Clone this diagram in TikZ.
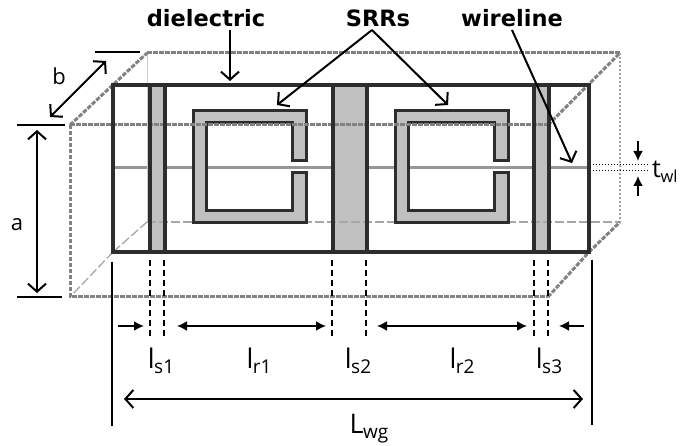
\documentclass[tikz,border=0pt]{standalone}
\usepackage{fontspec}
\setmainfont{Open Sans}
\newfontfamily\boldlab{DejaVu Sans}
\usetikzlibrary{arrows.meta}
\definecolor{fillgray}{RGB}{192,192,192}
\definecolor{linedark}{RGB}{45,45,45}
\definecolor{boxgray}{RGB}{130,130,130}
\definecolor{wiregray}{RGB}{150,150,150}
\tikzset{
  x=1pt,y=-1pt,
  frontline/.style={draw=linedark,line width=3.4pt},
  backbold/.style={draw=boxgray,line width=3pt,dash pattern=on 4.5pt off 1.5pt},
  backthin/.style={draw=boxgray!70,line width=1.3pt,dash pattern=on 9pt off 3pt},
  backfaint/.style={draw=boxgray!40,line width=.8pt},
  dimsolid/.style={draw=black,line width=1.3pt},
  guide/.style={draw=black,line width=1.1pt,dash pattern=on 6pt off 4pt},
  bigarrow/.style={draw=black,line width=2pt,-{Straight Barb[length=8pt,width=18pt,line width=2pt]}},
  bigboth/.style={draw=black,line width=2pt,{Straight Barb[length=8pt,width=18pt,line width=2pt]}-{Straight Barb[length=8pt,width=18pt,line width=2pt]}},
  solidboth/.style={draw=black,line width=1.8pt,{Latex[length=10pt,width=10pt]}-{Latex[length=10pt,width=10pt]}},
  solidone/.style={draw=black,line width=1.8pt,-{Latex[length=10pt,width=10pt]}},
  title/.style={font=\boldlab\bfseries\fontsize{22.5}{26}\selectfont,inner sep=0pt},
  dimlabel/.style={font=\fontsize{27}{30}\selectfont,inner sep=0pt},
  smalllabel/.style={font=\fontsize{22}{26}\selectfont,inner sep=0pt}
}
\newcommand{\subt}[2]{#1\kern-.5pt\raisebox{-5pt}{\fontsize{19}{21}\selectfont #2}}
\begin{document}
\begin{tikzpicture}
\useasboundingbox (0,0) rectangle (681,446);
\clip (0,0) rectangle (681,446);
\fill[white] (0,0) rectangle (681,446);
% corners
\coordinate (fa) at (113,85); \coordinate (fb) at (589,85);
\coordinate (fc) at (589,252); \coordinate (fd) at (113,252);
\coordinate (na) at (70,125); \coordinate (nb) at (548,125);
\coordinate (nc) at (548,297); \coordinate (nd) at (70,297);
\coordinate (ba) at (147,53); \coordinate (bb) at (620,53);
\coordinate (bc) at (620,222); \coordinate (bd) at (147,222);
% wire
\draw[draw=wiregray,line width=3pt] (115,168) -- (587,168);
% strips
\fill[fillgray] (150,85) rectangle (165,252);
\fill[fillgray] (333,85) rectangle (367,252);
\fill[fillgray] (534,85) rectangle (549,252);
% hidden edges
\draw[backfaint] (ba) -- (bd);
\draw[backthin] (bd) -- (bc);
\draw[backthin] (bd) -- (fd);
\draw[backthin] (fd) -- (nd);
% SRR 1 and 2
\foreach \o in {0,202}{
  \begin{scope}[xshift=\o pt]
  \filldraw[fill=fillgray,draw=linedark,line width=3pt,line join=miter]
    (306,161) -- (306,111) -- (193,111) -- (193,223) -- (306,223) -- (306,173) -- (292,173)
    -- (292,211) -- (206,211) -- (206,123) -- (292,123) -- (292,161) -- cycle;
  \end{scope}
}
% near and back dashed box
\draw[backbold] (na) -- (nb);
\draw[backbold] (na) -- (nd) -- (nc);
\draw[backbold] (ba) -- (bb);
\draw[backbold] (na) -- (ba);
\draw[backbold] (nb) -- (bb);
\draw[backbold] (nc) -- (fc);
\draw[draw=boxgray!75,line width=2.6pt,dash pattern=on 2.5pt off 1.5pt] (bb) -- (bc);
\draw[backbold] (fc) -- (bc);
% front face
\draw[frontline] (fa) rectangle (fc);
\foreach \x in {150,165,333,367,534,549}{
  \draw[frontline] (\x,85) -- (\x,252);
}
% guides
\foreach \x in {150,164,332,366,534,548}{
  \draw[guide] (\x,260) -- (\x,337);
}
% dim ticks
\coordinate (t1) at (17,125); \coordinate (t2) at (65,125);
\coordinate (t3) at (17,297); \coordinate (t4) at (62,297);
\coordinate (t5) at (95,52); \coordinate (t6) at (140,52);
\draw[dimsolid] (t1) -- (t2);
\draw[dimsolid] (t3) -- (t4);
\draw[dimsolid] (t5) -- (t6);
\coordinate (aa) at (37,130); \coordinate (ab) at (37,293);
\draw[bigboth] (aa) -- (ab);
\coordinate (ba1) at (50,117); \coordinate (ba2) at (106,61);
\draw[bigboth] (ba1) -- (ba2);
\node[smalllabel] (la) at (17,225) {a};
\node[smalllabel] (lb) at (59,76) {b};
% titles
\node[title] (diel) at (206,18) {dielectric};
\node[title] (srr) at (378,18) {SRRs};
\node[title] (wire) at (512,18) {wireline};
\coordinate (d1) at (230,30); \coordinate (d2) at (230,81);
\coordinate (s0) at (372,30); \coordinate (s1) at (277,105); \coordinate (s2) at (448,105);
\coordinate (w1) at (512,30); \coordinate (w2) at (572,163);
\draw[bigarrow] (d1) -- (d2);
\draw[bigarrow] (s0) -- (s1);
\draw[bigarrow] (s0) -- (s2);
\draw[bigarrow] (w1) -- (w2);
% t_wl
\draw[black,line width=1pt,dotted] (593,165) -- (649,165);
\draw[black,line width=1pt,dotted] (593,171) -- (649,171);
\coordinate (u1) at (638,141); \coordinate (u2) at (638,161);
\coordinate (u3) at (638,196); \coordinate (u4) at (638,176);
\draw[solidone] (u1) -- (u2);
\draw[solidone] (u3) -- (u4);
\node[dimlabel,anchor=west,font=\fontsize{25}{30}\selectfont] (twl) at (652,172) {t\kern-.5pt\raisebox{-5pt}{\fontsize{16.5}{20}\selectfont wl}};
% bottom dims
\coordinate (l1) at (118,326); \coordinate (l2) at (144,326);
\coordinate (l3) at (177,326); \coordinate (l4) at (326,326);
\coordinate (l5) at (377,326); \coordinate (l6) at (527,326);
\coordinate (l7) at (584,326); \coordinate (l8) at (559,326);
\draw[solidone] (l1) -- (l2);
\draw[solidboth] (l3) -- (l4);
\draw[solidboth] (l5) -- (l6);
\draw[solidone] (l7) -- (l8);
\node[dimlabel] (ls1) at (161,361) {\subt{l}{s1}};
\node[dimlabel] (lr1) at (259,361) {\subt{l}{r1}};
\node[dimlabel] (ls2) at (358,361) {\subt{l}{s2}};
\node[dimlabel] (lr2) at (462,361) {\subt{l}{r2}};
\node[dimlabel] (ls3) at (549,361) {\subt{l}{s3}};
% L
\coordinate (q1) at (112,262); \coordinate (q2) at (112,426);
\coordinate (q3) at (592,260); \coordinate (q4) at (592,425);
\draw[dimsolid] (q1) -- (q2);
\draw[dimsolid] (q3) -- (q4);
\coordinate (m1) at (124,399); \coordinate (m2) at (583,399);
\draw[bigboth] (m1) -- (m2);
\node[dimlabel] (lwg) at (369,429) {\subt{L}{wg}};
\end{tikzpicture}
\end{document}
